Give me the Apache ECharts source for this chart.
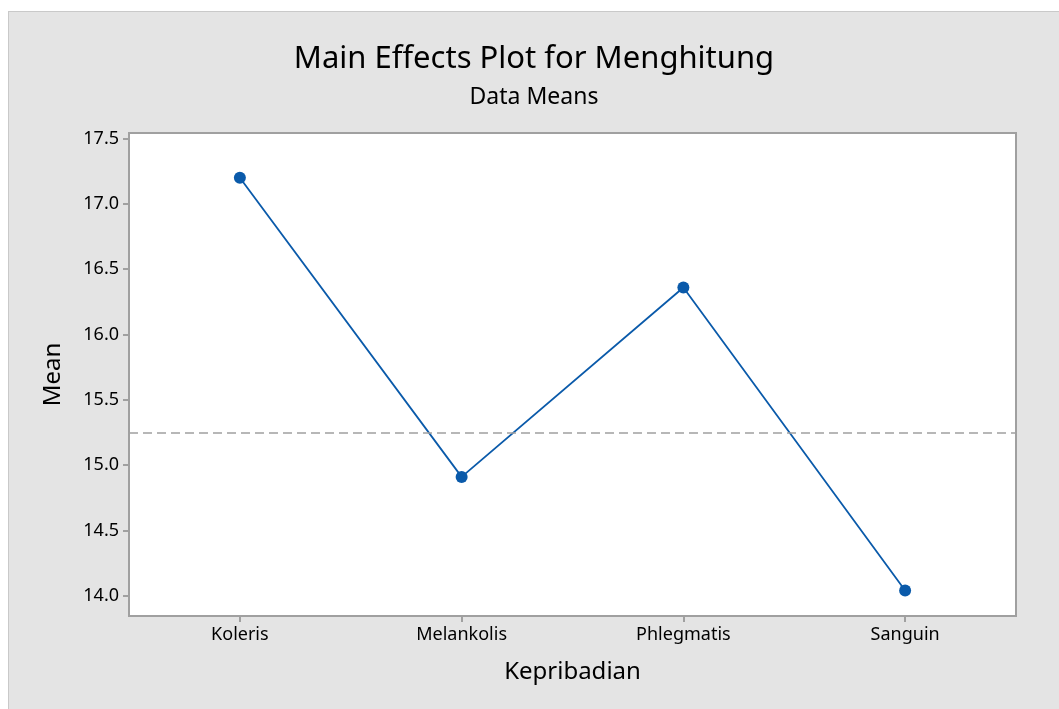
<!DOCTYPE html>
<html>
<head>
<meta charset="utf-8">
<title>Main Effects Plot for Menghitung</title>
<script src="https://cdn.jsdelivr.net/npm/echarts@6/dist/echarts.min.js"></script>
<style>
    html,body{margin:0;padding:0;background:#fff;width:1059px;height:709px;overflow:hidden;}
    #panel{position:absolute;left:8px;top:11px;width:1051px;height:698px;background:#e4e4e4;
        border-top:1px solid #c9c9c9;border-left:1px solid #c9c9c9;box-sizing:border-box;}
</style>
</head>
<body>
<div id="panel"></div>
<script>
// kategori dan rata-rata
var categories = ['Koleris', 'Melankolis', 'Phlegmatis', 'Sanguin'];
var means = [17.20, 14.91, 16.36, 14.04];
var grandMean = 15.25;
var yTicks = [14.0, 14.5, 15.0, 15.5, 16.0, 16.5, 17.0, 17.5];

mainEffects('panel');

function mainEffects(id){
    var chart = echarts.init(document.getElementById(id));
    var font = '"Noto Sans", "Open Sans", sans-serif';
    var option = {
        animation: false,
        textStyle: { fontFamily: font },
        title: [{
            text: 'Main Effects Plot for Menghitung',
            left: 'center',
            top: 27,
            textStyle: { fontSize: 31, fontWeight: 'normal', color: '#000', fontFamily: font }
        }, {
            text: 'Data Means',
            left: 'center',
            top: 69,
            textStyle: { fontSize: 23, fontWeight: 'normal', color: '#000', fontFamily: font }
        }],
        grid: {
            show: true,
            left: 120,
            top: 121,
            right: 43,
            bottom: 93,
            backgroundColor: '#fff',
            borderColor: '#a0a0a0',
            borderWidth: 2
        },
        xAxis: {
            type: 'category',
            data: categories,
            boundaryGap: true,
            name: 'Kepribadian',
            nameLocation: 'middle',
            nameGap: 44,
            nameTextStyle: { fontSize: 24, color: '#000', fontFamily: font },
            axisLine: { show: false },
            axisTick: { show: true, alignWithLabel: true, length: 6, lineStyle: { color: '#a0a0a0', width: 2 } },
            axisLabel: { fontSize: 18, color: '#000', margin: 10, fontFamily: font },
            splitLine: { show: false }
        },
        yAxis: {
            type: 'value',
            min: 13.845,
            max: 17.543,
            name: 'Mean',
            nameLocation: 'middle',
            nameGap: 64,
            nameTextStyle: { fontSize: 24, color: '#000', fontFamily: font },
            axisLine: { show: false },
            axisTick: { show: true, length: 6, customValues: yTicks, lineStyle: { color: '#a0a0a0', width: 2 } },
            axisLabel: {
                fontSize: 18, color: '#000', margin: 10, fontFamily: font,
                customValues: yTicks,
                formatter: function(v){ return v.toFixed(1); }
            },
            splitLine: { show: false }
        },
        series: [{
            name: 'Mean',
            type: 'line',
            data: means,
            symbol: 'circle',
            symbolSize: 12,
            lineStyle: { color: '#0a5aaa', width: 1.8 },
            itemStyle: { color: '#0a5aaa' },
            markLine: {
                silent: true,
                symbol: 'none',
                label: { show: false },
                lineStyle: { color: '#a0a0a0', width: 1.5, type: [9, 5] },
                data: [{ yAxis: grandMean }]
            }
        }]
    };
    chart.setOption(option);
    window.addEventListener("resize", function(){
        chart.resize();
    });
}
</script>
</body>
</html>
